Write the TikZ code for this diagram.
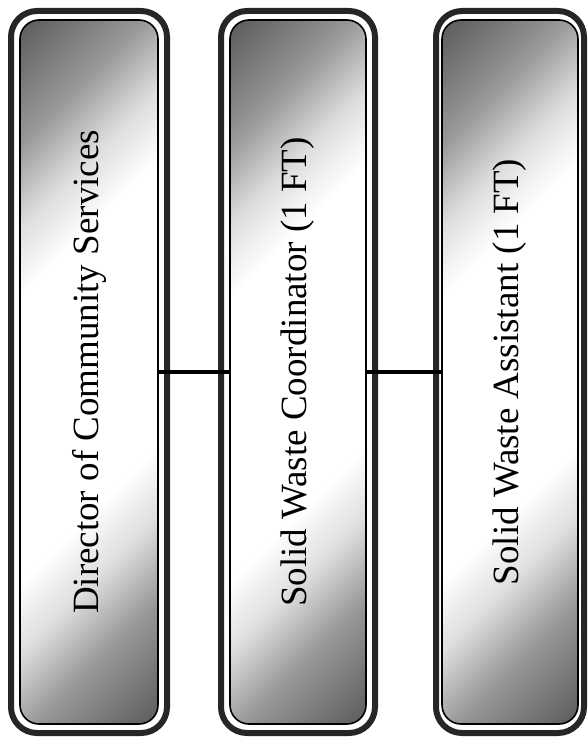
\documentclass[tikz,border=0pt]{standalone}
\usepackage{fontspec}
\setmainfont{Liberation Serif}
\usepackage{tikz}
\usetikzlibrary{positioning}
\pgfdeclareverticalshading{sheen}{100bp}{color(0bp)=(black!72); color(14bp)=(black!66); color(25bp)=(black!40); color(32bp)=(black!13); color(38bp)=(white); color(62bp)=(white); color(68bp)=(black!13); color(75bp)=(black!40); color(86bp)=(black!66); color(100bp)=(black!72)}
\tikzset{
  frame/.style={rectangle,rounded corners=26pt,draw=black!85,line width=6pt,
                fill=white,minimum height=722pt,inner sep=0pt},
  panel/.style={rectangle,rounded corners=19pt,draw=black,line width=1.6pt,
                shading=sheen,shading angle=45,minimum height=704pt,inner sep=0pt},
  title/.style={rotate=90,font=\fontsize{37}{44}\selectfont},
  link/.style={line width=4.5pt,draw=black},
}
\begin{document}
\begin{tikzpicture}[x=1pt,y=-1pt]
  \useasboundingbox (0,0) rectangle (587,741);
  \node[frame,minimum width=156pt] (dirframe) at (89,372) {};
  \node[frame,minimum width=154pt,right=48pt of dirframe] (coordframe) {};
  \node[frame,minimum width=148pt,right=55pt of coordframe] (asstframe) {};

  \node[panel,minimum width=138pt] (dir) at (dirframe.center) {};
  \node[panel,minimum width=136pt] (coord) at (coordframe.center) {};
  \node[panel,minimum width=136pt] (asst) at (asstframe.center) {};

  \node[title] (dirtext) at (dir.center) {Director of Community Services};
  \node[title] (coordtext) at (coord.center) {Solid Waste Coordinator (1 FT)};
  \node[title] (assttext) at (asst.center) {Solid Waste Assistant (1 FT)};

  \draw[link] (dir.east) -- (coord.west);
  \draw[link] (coord.east) -- (asst.west);
\end{tikzpicture}
\end{document}
